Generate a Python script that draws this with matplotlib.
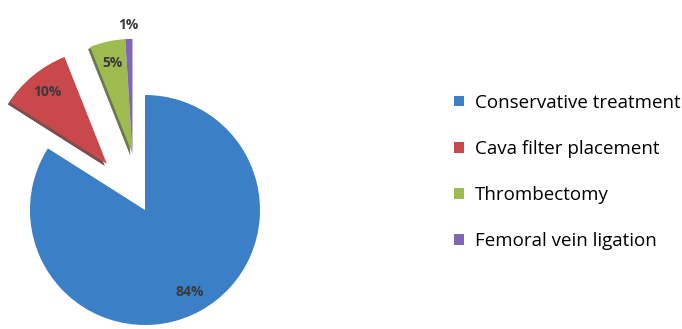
import numpy as np
import matplotlib
matplotlib.use("Agg")
import matplotlib.pyplot as plt
import matplotlib.patheffects as pe
from matplotlib.patches import Patch

labels = ["Conservative treatment", "Cava filter placement", "Thrombectomy",
          "Femoral vein ligation"]
shares = [84, 10, 5, 1]
colors = ["#3b7fc7", "#c9484b", "#9dbb4f", "#7f65b3"]
explode = [0, 0.52, 0.5, 0.5]

plt.rcParams["font.family"] = ["Open Sans", "DejaVu Sans"]

fig = plt.figure(figsize=(6.82, 3.29), dpi=100)
ax = fig.add_axes([0, 0, 0.45, 1])

wedges, texts, autotexts = ax.pie(
    shares, colors=colors, explode=explode, startangle=90, counterclock=False,
    autopct="%1.0f%%", pctdistance=0.81,
    textprops=dict(fontsize=10, fontweight="bold", color="#3a3a3a"),
)

# 1% sliver sits next to the green slice, label above it
wedges[3].set_center(wedges[2].center)
th = np.deg2rad((wedges[3].theta1 + wedges[3].theta2) / 2)
cx, cy = wedges[3].center
autotexts[3].set_position((cx + 1.12 * np.cos(th), cy + 1.12 * np.sin(th)))

for w in wedges[1:3]:
    w.set_path_effects([pe.SimplePatchShadow(offset=(-1.5, -1.5), alpha=0.8, rho=0.45),
                        pe.Normal()])

# pixel-matched limits: centre at (145, 210) px, radius 115 px
r = 115
ax_w = 0.45 * 682
ax.set_xlim(-145 / r, (ax_w - 145) / r)
ax.set_ylim(-(329 - 210) / r, 210 / r)
ax.set_aspect("auto")
ax.axis("off")

handles = [Patch(facecolor=c) for c in colors]
fig.legend(handles, labels, loc="upper left", bbox_to_anchor=(0.655, 0.738),
           frameon=False, fontsize=13.5, handlelength=0.5, handleheight=0.5,
           handletextpad=0.6, labelspacing=1.5, borderaxespad=0)

fig.savefig("out.png", dpi=100)
